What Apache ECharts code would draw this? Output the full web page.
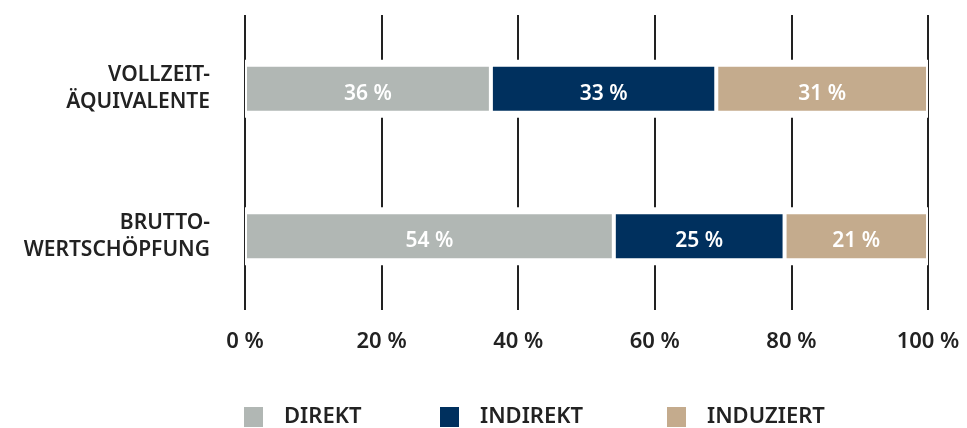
<!DOCTYPE html>
<html>
<head>
<meta charset="utf-8">
<script src="https://cdn.jsdelivr.net/npm/echarts@6/dist/echarts.min.js"></script>
<style>
  html, body { margin: 0; padding: 0; background: #fff; }
  #chart { width: 967px; height: 428px; }
</style>
</head>
<body>
<div id="chart"></div>
<script>
// data
categories = ["VOLLZEIT-\nÄQUIVALENTE", "BRUTTO-\nWERTSCHÖPFUNG"];
direkt = [36, 54];
indirekt = [33, 25];
induziert = [31, 21];
tickLabels = ["0 %", "20 %", "40 %", "60 %", "80 %", "100 %"];
legendNames = ["DIREKT", "INDIREKT", "INDUZIERT"];
legendLeft = [242, 438, 665];

var font = "Noto Sans";
var chart = echarts.init(document.getElementById("chart"));

function barSeries(name, values, color) {
    return {
        name: name,
        type: "bar",
        stack: "total",
        yAxisIndex: 0,
        barWidth: 48,
        z: 5,
        data: values,
        itemStyle: { color: color, borderColor: "#fff", borderWidth: 2 },
        label: {
            show: true,
            color: "#fff",
            fontFamily: font,
            fontWeight: 600,
            fontSize: 21,
            offset: [0, 5],
            formatter: "{c} %"
        }
    };
}

// one legend per entry so each can sit where the reference puts it
var legends = legendNames.map(function (name, i) {
    return {
        left: legendLeft[i],
        top: 405,
        padding: 0,
        itemWidth: 21,
        itemHeight: 22,
        icon: "rect",
        data: [name],
        textStyle: {
            color: "#222",
            fontFamily: font,
            fontWeight: 600,
            fontSize: 22,
            padding: [0, 0, 0, 15]
        }
    };
});

var option = {
    animation: false,
    grid: { left: 245, right: 39, top: 15, bottom: 118 },
    xAxis: {
        type: "value",
        min: 0,
        max: 100,
        interval: 20,
        axisLine: { show: false },
        axisTick: { show: false },
        splitLine: { show: true, lineStyle: { color: "#222", width: 2 } },
        axisLabel: {
            margin: 21,
            color: "#222",
            fontFamily: font,
            fontWeight: 600,
            fontSize: 22,
            formatter: function (v) { return tickLabels[v / 20]; }
        }
    },
    yAxis: [
        {
            type: "category",
            data: categories,
            inverse: true,
            axisLine: { show: false },
            axisTick: { show: false },
            axisLabel: {
                margin: 35,
                color: "#222",
                fontFamily: font,
                fontWeight: 600,
                fontSize: 21,
                lineHeight: 27,
                padding: [11, 0, 0, 0],
                align: "right"
            }
        },
        {
            type: "category",
            data: categories,
            inverse: true,
            show: false
        }
    ],
    legend: legends,
    series: [
        {
            name: "halo",
            type: "bar",
            yAxisIndex: 1,
            barWidth: 58,
            z: 3,
            silent: true,
            data: [100, 100],
            itemStyle: { color: "#fff" }
        },
        barSeries("DIREKT", direkt, "#b1b7b4"),
        barSeries("INDIREKT", indirekt, "#00305e"),
        barSeries("INDUZIERT", induziert, "#c4ab8d")
    ]
};

chart.setOption(option);
</script>
</body>
</html>
